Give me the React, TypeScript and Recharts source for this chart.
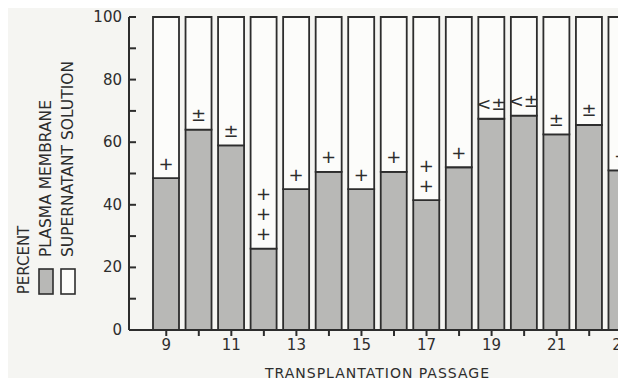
import { BarChart, Bar, XAxis, YAxis, LabelList, Legend, Label } from 'recharts';

/* eslint-disable @typescript-eslint/no-explicit-any */

const passages = ['9', '10', '11', '12', '13', '14', '15', '16', '17', '18', '19', '20', '21', '22', '23'];
const plasmaMembrane = [48.5, 64, 59, 26, 45, 50.5, 45, 50.5, 41.5, 52, 67.5, 68.5, 62.5, 65.5, 51];
const supernatant = [51.5, 36, 41, 74, 55, 49.5, 55, 49.5, 58.5, 48, 32.5, 31.5, 37.5, 34.5, 49];
const marks = [
  ['+'], ['±'], ['±'], ['+', '+', '+'], ['+'], ['+'], ['+'], ['+'],
  ['+', '+'], ['+'], ['<±'], ['<±'], ['±'], ['±'], ['+'],
];
const yTicks = [0, 10, 20, 30, 40, 50, 60, 70, 80, 90, 100];
const yLabels = [0, 20, 40, 60, 80, 100];
const xLabels = ['9', '11', '13', '15', '17', '19', '21', '23'];
const xTitle = 'TRANSPLANTATION PASSAGE';

const INK = '#2d2d2d';
const GRAY = '#b8b8b6';
const WHITE = '#fcfcfa';
const PAPER = '#f5f5f2';
const FONT = '"DejaVu Sans", sans-serif';

const data = passages.map((p, i) => ({
  passage: p,
  plasma: plasmaMembrane[i],
  supernatant: supernatant[i],
  mark: marks[i],
}));

function YTick({ x, y, payload }: any) {
  const axisX = x + 7;
  return (
    <g>
      <line x1={axisX} x2={axisX + 7} y1={y} y2={y} stroke={INK} strokeWidth={2} />
      {yLabels.includes(payload.value) && (
        <text x={x} y={y} textAnchor="end" dominantBaseline="central"
          fontFamily={FONT} fontSize={15} fill={INK}>
          {payload.value}
        </text>
      )}
    </g>
  );
}

function XTick({ x, y, payload }: any) {
  if (!xLabels.includes(payload.value)) return null;
  return (
    <text x={x} y={y + 7} textAnchor="middle" dominantBaseline="central"
      fontFamily={FONT} fontSize={15} fill={INK}>
      {payload.value}
    </text>
  );
}

function XTitle({ viewBox }: any) {
  const { x, y, width } = viewBox;
  return (
    <text x={x + width / 2 - 6} y={y + 43} textAnchor="middle" dominantBaseline="central"
      fontFamily={FONT} fontSize={14} letterSpacing={1} fill={INK}>
      {xTitle}
    </text>
  );
}

function MarkLabel({ x, y, width, value }: any) {
  const lines: string[] = value || [];
  return (
    <g>
      {lines.map((s, i) => (
        <text key={i} x={x + width / 2} y={y - 15 - i * 20} textAnchor="middle"
          dominantBaseline="central" fontFamily={FONT} fontSize={18} fill={INK}>
          {s}
        </text>
      ))}
    </g>
  );
}

function LegendBox({ payload }: any) {
  const items = payload || [];
  return (
    <svg width={90} height={386}>
      <text transform="translate(24,260) rotate(-90)" textAnchor="middle"
        dominantBaseline="central" fontFamily={FONT} fontSize={15} fill={INK}>
        PERCENT
      </text>
      {items.map((it: any, i: number) => {
        const cx = 46 + i * 22;
        return (
          <g key={i}>
            <rect x={cx - 7} y={269} width={14} height={25} fill={it.color}
              stroke={INK} strokeWidth={1.6} />
            <text transform={`translate(${cx},257) rotate(-90)`} textAnchor="start"
              dominantBaseline="central" fontFamily={FONT} fontSize={15.5} fill={INK}>
              {it.value}
            </text>
          </g>
        );
      })}
    </svg>
  );
}

export default function App() {
  return (
    <div style={{ margin: -8, width: 626, height: 386, overflow: 'hidden', background: PAPER, position: 'relative' }}>
      <BarChart width={638} height={386} data={data}
        margin={{ top: 17, right: 0, bottom: 0, left: 0 }} barSize={26}>
        <Legend layout="vertical" align="center" verticalAlign="middle"
          content={<LegendBox />}
          wrapperStyle={{ left: 0, top: 0, width: 90, height: 386 }} />
        <YAxis type="number" domain={[0, 100]} ticks={yTicks} width={129}
          tickSize={0} tickMargin={7} tick={<YTick />}
          axisLine={{ stroke: INK, strokeWidth: 2 }} tickLine={false} />
        <XAxis dataKey="passage" interval={0} height={56} padding={{ left: 21, right: 0 }}
          tickSize={6} tick={<XTick />}
          axisLine={{ stroke: INK, strokeWidth: 2 }}
          tickLine={{ stroke: INK, strokeWidth: 2 }}>
          <Label content={<XTitle />} />
        </XAxis>
        <Bar dataKey="plasma" name="PLASMA MEMBRANE" stackId="a" fill={GRAY}
          stroke={INK} strokeWidth={1.8} isAnimationActive={false}>
          <LabelList dataKey="mark" content={<MarkLabel />} />
        </Bar>
        <Bar dataKey="supernatant" name="SUPERNATANT SOLUTION" stackId="a" fill={WHITE}
          stroke={INK} strokeWidth={1.8} isAnimationActive={false} />
      </BarChart>
    </div>
  );
}
